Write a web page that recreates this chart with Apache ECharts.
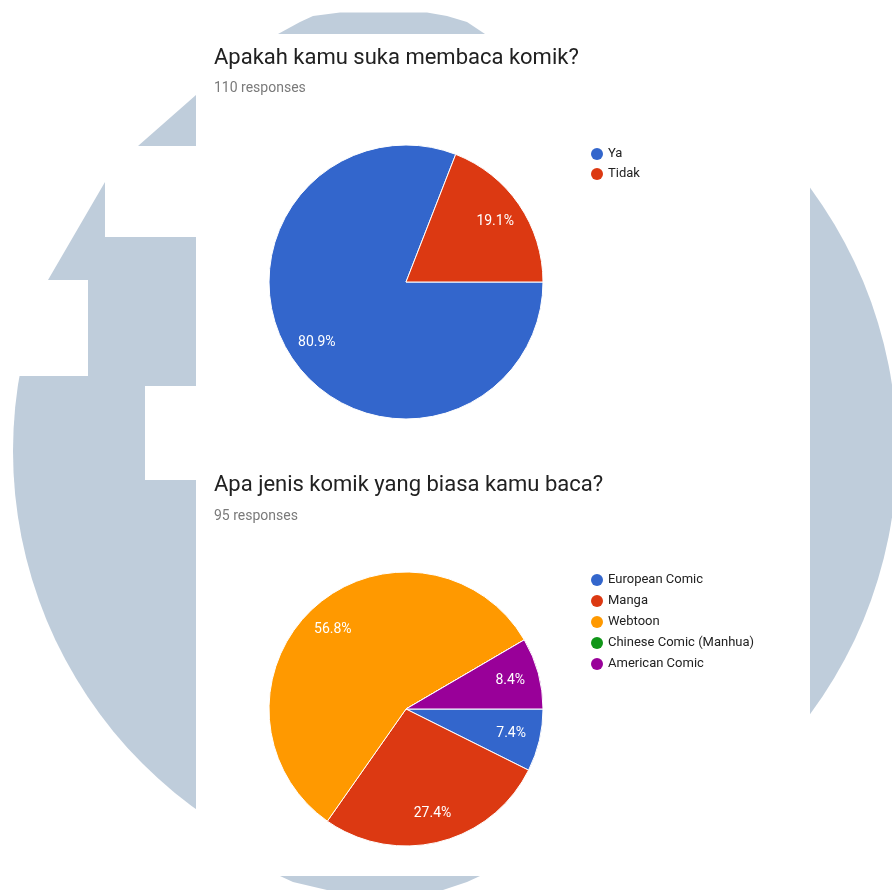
<!DOCTYPE html>
<html>
<head>
<meta charset="utf-8">
<script src="https://cdn.jsdelivr.net/npm/echarts@6/dist/echarts.min.js"></script>
<style>
html,body{margin:0;padding:0;background:#fff;}
#chart{width:892px;height:890px;}
</style>
</head>
<body>
<div id="chart"></div>
<script>
// ---- Data ----
const q1Title = 'Apakah kamu suka membaca komik?';
const q1Responses = '110 responses';
const q1Categories = ['Ya', 'Tidak'];
const q1Values = [89, 21];

const q2Title = 'Apa jenis komik yang biasa kamu baca?';
const q2Responses = '95 responses';
const q2Categories = ['European Comic', 'Manga', 'Webtoon', 'Chinese Comic (Manhua)', 'American Comic'];
const q2Values = [7, 26, 54, 0, 8];

// ---- Styles ----
const palette = ['#3366cc', '#dc3912', '#ff9900', '#109618', '#990099'];
const font = 'Roboto';
const wm = '#bfcddb';

function buildData(cats, vals) {
  return cats.map((c, i) => ({ name: c, value: vals[i], itemStyle: { color: palette[i] } }));
}
function labelData(cats, vals) {
  return cats.map((c, i) => ({ name: c, value: vals[i] }));
}
const fmt = p => (p.value === 0 ? '' : p.percent.toFixed(1) + '%');

function pieMain(cats, vals, center) {
  return {
    type: 'pie', center: center, radius: [0, 137], startAngle: 0, clockwise: true,
    percentPrecision: 1, animation: false, silent: true,
    itemStyle: { borderColor: '#fff', borderWidth: 1 },
    label: { show: false }, labelLine: { show: false },
    data: buildData(cats, vals)
  };
}
function pieLabels(cats, vals, center) {
  return {
    type: 'pie', center: center, radius: [0, 210], startAngle: 0, clockwise: true,
    percentPrecision: 1, animation: false, silent: true,
    itemStyle: { color: 'rgba(0,0,0,0)', borderWidth: 0 },
    label: { show: true, position: 'inside', formatter: fmt, color: '#fff', fontSize: 14, fontFamily: font },
    labelLine: { show: false },
    data: labelData(cats, vals)
  };
}

const titleStyle = { fontFamily: font, fontSize: 22, fontWeight: 'normal', color: '#212121', lineHeight: 24 };
const subStyle = { fontFamily: font, fontSize: 14, color: '#7a7a7a', lineHeight: 16 };
const legendText = { fontFamily: font, fontSize: 13, color: '#222', lineHeight: 14 };

const chart = echarts.init(document.getElementById('chart'), null, { renderer: 'canvas' });
chart.setOption({
  backgroundColor: '#fff',
  animation: false,
  graphic: {
    elements: [
      { type: 'circle', shape: { cx: 455, cy: 451, r: 442 }, style: { fill: wm }, z: 0 },
      { type: 'polygon', shape: { points: [[0,0],[196,0],[196,95],[138,146],[196,146],[196,237],[105,237],[105,182],[48,280],[88,280],[88,376],[0,376]] }, style: { fill: '#fff' }, z: 0 },
      { type: 'rect', shape: { x: 145, y: 386, width: 60, height: 94 }, style: { fill: '#fff' }, z: 0 },
      { type: 'rect', shape: { x: 196, y: 0, width: 614, height: 890 }, style: { fill: '#fff' }, z: 0 },
      { type: 'polygon', shape: { points: [[278,34],[300,22],[313,16],[340,12.5],[427,12.5],[447,16],[467,22],[485,34]] }, style: { fill: wm }, z: 0 },
      { type: 'polygon', shape: { points: [[280,876],[480,876],[467,882],[443,890],[327,890],[293,882]] }, style: { fill: wm }, z: 0 }
    ]
  },
  title: [
    { text: q1Title, subtext: q1Responses, left: 214, top: 46, padding: 0, itemGap: 10, textStyle: titleStyle, subtextStyle: subStyle },
    { text: q2Title, subtext: q2Responses, left: 214, top: 473, padding: 0, itemGap: 11, textStyle: titleStyle, subtextStyle: subStyle }
  ],
  legend: [
    {
      data: q1Categories, orient: 'vertical', left: 591, top: 147, padding: 0,
      icon: 'circle', itemWidth: 12, itemHeight: 12, itemGap: 6, selectedMode: false,
      itemStyle: { borderWidth: 0 },
      textStyle: legendText
    },
    {
      data: q2Categories, orient: 'vertical', left: 591, top: 573, padding: 0,
      icon: 'circle', itemWidth: 12, itemHeight: 12, itemGap: 7, selectedMode: false,
      itemStyle: { borderWidth: 0 },
      textStyle: legendText
    }
  ],
  series: [
    pieMain(q1Categories, q1Values, [406, 282]),
    pieMain(q2Categories, q2Values, [406, 709]),
    pieLabels(q1Categories, q1Values, [406, 282]),
    pieLabels(q2Categories, q2Values, [406, 709])
  ]
});
</script>
</body>
</html>
